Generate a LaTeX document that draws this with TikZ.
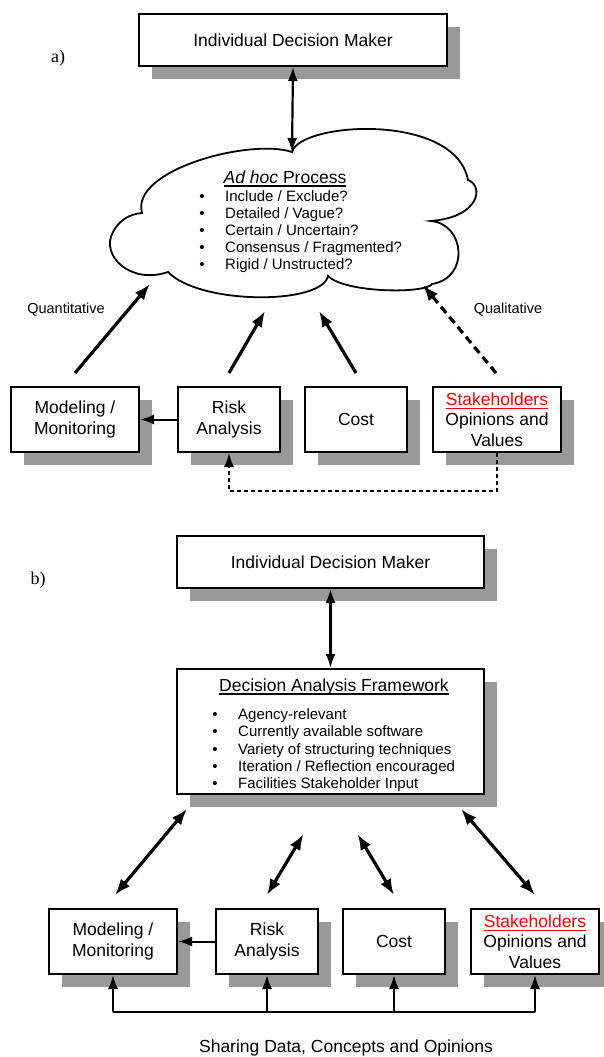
\documentclass[tikz,border=0pt]{standalone}
\usepackage{fontspec}
\setmainfont{Liberation Sans}
\newfontfamily\serifface{Liberation Serif}
\usetikzlibrary{arrows.meta,calc,shadows}
\definecolor{shadeGray}{HTML}{999999}
\definecolor{stakeRed}{HTML}{FF0000}
% underline with a firmer rule than \underline
\newcommand{\ulText}[1]{\setbox0\hbox{#1}\rlap{\vrule height -2.4pt depth 4.1pt width \wd0}\box0}

\begin{document}
\begin{tikzpicture}[x=1pt, y=-1pt,
  boxMain/.style={draw=black, line width=2pt, fill=white, align=center, inner sep=0pt,
    font=\fontsize{17.5}{20.5}\selectfont,
    drop shadow={shadow xshift=13pt, shadow yshift=-13pt, fill=shadeGray, opacity=1}},
  txtMain/.style={font=\fontsize{17.5}{20.5}\selectfont, inner sep=0pt},
  txtList/.style={font=\fontsize{15}{17}\selectfont, inner sep=0pt},
  txtSide/.style={font=\fontsize{14.5}{17}\selectfont, inner sep=0pt},
  txtPart/.style={font=\serifface\fontsize{18}{20}\selectfont, inner sep=0pt},
  arrThick/.style={line width=3.2pt, -{Latex[length=16pt,width=12pt]}},
  arrBoth/.style={line width=3.2pt, {Latex[length=16pt,width=12pt]}-{Latex[length=16pt,width=12pt]}},
  arrThin/.style={line width=2pt, -{Latex[length=14pt,width=10pt]}},
  arrThinBoth/.style={line width=2.2pt, {Latex[length=14pt,width=10pt]}-{Latex[length=14pt,width=10pt]}},
]
\useasboundingbox (0,0) rectangle (604,1057);

% ---------- part a) ----------
\node[txtPart] (lblA) at (58,58) {a)};
\node[boxMain, minimum width=308pt, minimum height=52pt] (topA) at (293,40) {Individual Decision Maker};

% the ad hoc cloud
\draw[line width=1.8pt, fill=white] (113,232)
  .. controls (118,222) and (128,214) .. (142,213)
  .. controls (130,170) and (250,138) .. (292,152)
  .. controls (300,122) and (455,112) .. (468,180)
  .. controls (484,186) and (480,217) .. (431,221)
  .. controls (465,224) and (470,278) .. (432,284)
  .. controls (425,294) and (345,293) .. (328,276)
  .. controls (322,305) and (200,305) .. (168,272)
  .. controls (130,285) and (100,255) .. (113,232) -- cycle;
\node[txtMain, anchor=base] (adhocTitle) at (285,183) {\ulText{\textit{Ad hoc} Process}};
\foreach \t [count=\i from 0] in {Include / Exclude?, Detailed / Vague?, Certain / Uncertain?,
    Consensus / Fragmented?, Rigid / Unstructed?} {
  \pgfmathsetmacro{\yb}{201.5 + \i*17}
  \node[txtList, anchor=base] (adhocDot\i) at (202,\yb) {\textbullet};
  \node[txtList, anchor=base west] (adhocItem\i) at (225,\yb) {\t};
}
\coordinate (qTop)   at (292,152);
\coordinate (qMod)   at (150,284);
\coordinate (qRisk)  at (265,311);
\coordinate (qCost)  at (319,311);
\coordinate (qStake) at (423,285);

\node[txtSide] (lblQuant) at (66,310) {Quantitative};
\node[txtSide] (lblQual)  at (508,310) {Qualitative};

% ---------- the two rows of source boxes ----------
\foreach \row/\dx/\yc in {A/0/419.5, B/38/941.5} {
  \node[boxMain, minimum width=128pt, minimum height=65pt] (mod\row)   at ({75+\dx},\yc)  {Modeling /\\Monitoring};
  \node[boxMain, minimum width=102pt, minimum height=65pt] (risk\row)  at ({229+\dx},\yc) {Risk\\Analysis};
  \node[boxMain, minimum width=102pt, minimum height=65pt] (cost\row)  at ({356+\dx},\yc) {Cost};
  \node[boxMain, minimum width=128pt, minimum height=65pt] (stake\row) at ({497+\dx},\yc)
    {\textcolor{stakeRed}{\ulText{Stakeholders}}\\Opinions and\\Values};
  \draw[arrThin] (risk\row.west) -- (mod\row.east);
}

% a) connectors
\draw[arrThinBoth] (topA.south) -- (qTop);
\draw[arrThick] ($(modA.north)+(0,-13)$) -- (qMod);
\draw[arrThick] ($(riskA.north)+(0,-13)$) -- (qRisk);
\draw[arrThick] ($(costA.north)+(0,-13)$) -- (qCost);
\draw[arrThick, dash pattern=on 8pt off 5pt] ($(stakeA.north)+(-1,-13)$) -- (qStake);
\draw[arrThin, line width=1.8pt, dash pattern=on 4pt off 3pt] (stakeA.south) -- ++(0,38) -| (riskA.south);

% ---------- part b) ----------
\node[txtPart] (lblB) at (38,580) {b)};
\node[boxMain, minimum width=307pt, minimum height=52pt] (topB) at (330.5,562) {Individual Decision Maker};
\node[boxMain, minimum width=307pt, minimum height=125pt] (frame) at (330.5,731.5) {};
\node[txtMain, anchor=base] (frameTitle) at (334,691) {\ulText{Decision Analysis Framework}};
\foreach \t [count=\i from 0] in {Agency-relevant, Currently available software,
    Variety of structuring techniques, Iteration / Reflection encouraged, Facilities Stakeholder Input} {
  \pgfmathsetmacro{\yb}{719.5 + \i*17.3}
  \node[txtList, anchor=base] (frameDot\i) at (215,\yb) {\textbullet};
  \node[txtList, anchor=base west] (frameItem\i) at (238,\yb) {\t};
}

\draw[arrThinBoth] (topB.south) -- (frame.north);
\draw[arrBoth] ($(frame.south west)+(11,14)$) -- ($(modB.north)+(2,-13)$);
\draw[arrBoth] ($(frame.south)+(-27,39)$) -- ($(riskB.north)+(0,-13)$);
\draw[arrBoth] ($(frame.south)+(27,39)$) -- ($(costB.north)+(0,-13)$);
\draw[arrBoth] ($(frame.south east)+(-24,14)$) -- ($(stakeB.north)+(0,-13)$);

% shared line under the b) boxes
\coordinate (bus) at (0,1012);
\draw[line width=2pt] (modB.south |- bus) -- (stakeB.south |- bus);
\foreach \nm in {modB,riskB,costB,stakeB}
  \draw[arrThin] (\nm.south |- bus) -- (\nm.south);
\node[txtMain] (lblShare) at (346,1048) {Sharing Data, Concepts and Opinions};
\end{tikzpicture}
\end{document}
